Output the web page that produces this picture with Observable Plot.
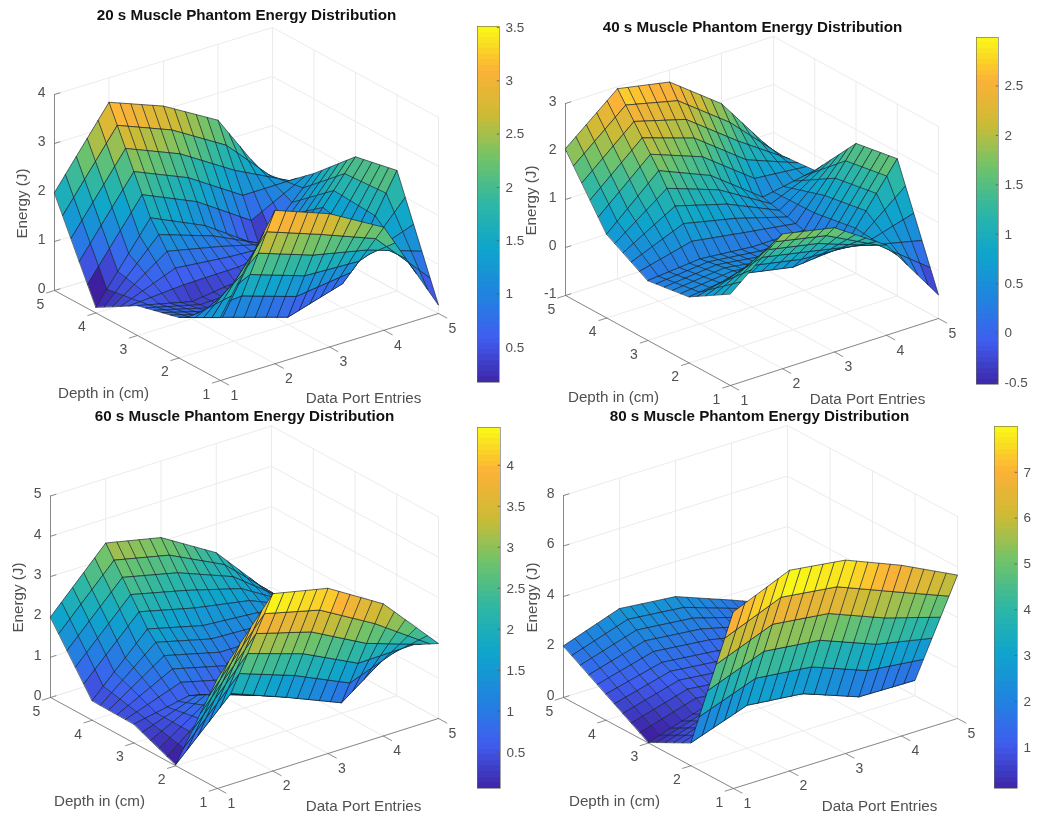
<!DOCTYPE html>
<html>
<head>
<meta charset="utf-8">
<script src="https://cdn.jsdelivr.net/npm/d3@7"></script>
<script src="https://cdn.jsdelivr.net/npm/@observablehq/plot@0.6"></script>
<style>
html,body{margin:0;padding:0;background:#fff}
#page{position:relative;width:1038px;height:816px;overflow:hidden;filter:blur(0.45px)}
#page svg{position:absolute;background:transparent}
</style>
</head>
<body>
<div id="page"></div>
<script>
// Energy at the integer knots; rows are depth 5..1, columns port 1..5.
const ports = [1, 2, 3, 4, 5];
const depths = [5, 4, 3, 2, 1];
const energy20 = [
  [2.0, 3.5, 3.08, 2.45, 0.78],
  [0.12, 1.6, 1.1, 0.35, 1.48],
  [0.61, 0.35, 0.5, 0.9, 2.28],
  [0.83, 0.49, 0.15, 0.49, 2.46],
  [1.29, 3.13, 2.72, 2.1, 0.17]
];
const energy40 = [
  [2.06, 2.96, 2.75, 1.95, 0.6],
  [0.75, 1.72, 1.27, 0.47, 0.68],
  [0.25, 0.35, 0.25, 0.25, 1.71],
  [0.38, 0.51, 0.30, 0.40, 1.86],
  [0.91, 1.81, 1.59, 0.88, -0.51]
];
const energy60 = [
  [2.0, 3.4, 3.1, 2.29, 0.83],
  [0.49, 1.83, 1.48, 1.37, 1.0],
  [0.47, 0.74, 0.39, 0.5, 1.3],
  [0.03, 1.36, 0.83, 0.26, 1.25],
  [2.73, 4.4, 4.1, 3.28, 1.86]
];
const energy80 = [
  [2.05, 2.83, 2.61, 1.78, 0.9],
  [1.04, 1.6, 1.37, 1.0, 1.0],
  [0.03, 0.73, 0.5, 0.7, 1.0],
  [0.91, 1.70, 1.47, 0.65, 0.61],
  [7.0, 7.95, 7.66, 6.76, 5.68]
];
const titles = ["20 s Muscle Phantom Energy Distribution", "40 s Muscle Phantom Energy Distribution",
                "60 s Muscle Phantom Energy Distribution", "80 s Muscle Phantom Energy Distribution"];
const zTicks = [[0,1,2,3,4], [-1,0,1,2,3], [0,1,2,3,4,5], [0,2,4,6,8]];
const barTicks = [[0.5,1,1.5,2,2.5,3,3.5], [-0.5,0,0.5,1,1.5,2,2.5], [0.5,1,1.5,2,2.5,3,3.5,4], [1,2,3,4,5,6,7]];
const barDomains = [[0.17,3.51], [-0.52,2.99], [0.06,4.46], [0.1,8.0]];

// Layout of each panel (view box corners, label anchors, colour bar box), in page pixels.
const layout = [
  {L:[54,290],  B:[220,380], R:[438,313], zs:49,    title:[246,15],  depth:[103,393], port:[363,398], energy:[22,203],  bar:[477,26,22,356]},
  {L:[565,295], B:[730,385], R:[938,318], zs:48,    title:[752,27],  depth:[613,397], port:[867,399], energy:[531,200], bar:[976,37,22,347]},
  {L:[50,697],  B:[217,788], R:[438,718], zs:40.3,  title:[244,416], depth:[99,801],  port:[363,806], energy:[18,597],  bar:[477,427,23,361]},
  {L:[563,697], B:[733,788], R:[957,718], zs:25.25, title:[759,416], depth:[614,801], port:[879,806], energy:[532,597], bar:[994,426,23,362]}
];

const parula = d3.piecewise(d3.interpolateRgb, ["#3e26a8","#3f5ef0","#1f85de","#0ea5cc","#2eb7a4","#6fc36a","#cdbb35","#fcb137","#f9fb15"]);
const textColor = "#505050", font = "Liberation Sans, Arial, sans-serif";
const page = document.getElementById("page");
const W = 1038, H = 816;
const pageScale = {
  x: {domain:[0,W], range:[0,W], axis:null},
  y: {domain:[0,H], range:[0,H], axis:null}
};

// The mesh of the surface is drawn at a fifth of a unit: a facet's corners lie on the
// flat patches spanned by the energies that were read at the knots above.
const meshPerUnit = 5;
function energyAt(table, p, d) {
  const i = Math.min(3, Math.floor(p - 1)), j = Math.min(3, Math.floor(5 - d));
  const a = p - 1 - i, b = 5 - d - j;
  return (1-a)*(1-b)*table[j][i] + a*(1-b)*table[j][i+1] + (1-a)*b*table[j+1][i] + a*b*table[j+1][i+1];
}

function drawPanel(table, k) {
  const g = layout[k], ticks = zTicks[k], zMin = ticks[0], zMax = ticks[ticks.length-1];
  const ex = [(g.R[0]-g.B[0])/4, (g.R[1]-g.B[1])/4];
  const ed = [(g.B[0]-g.L[0])/4, (g.B[1]-g.L[1])/4];
  const proj = (p, d, z) => ({
    x: g.L[0] + ex[0]*(p-1) + ed[0]*(5-d),
    y: g.L[1] + ex[1]*(p-1) + ed[1]*(5-d) - g.zs*(z-zMin)
  });

  // facets, far to near, one closed path each
  const facets = [];
  const n = 4*meshPerUnit;
  for (let dj = n-1; dj >= 0; dj--) {
    for (let pi = n-1; pi >= 0; pi--) {
      const p0 = 1+pi/meshPerUnit, p1 = 1+(pi+1)/meshPerUnit, d0 = 1+dj/meshPerUnit, d1 = 1+(dj+1)/meshPerUnit;
      const v = energyAt(table, p0, d0), id = `${dj}-${pi}`;
      for (const [p,d] of [[p0,d0],[p1,d0],[p1,d1],[p0,d1]]) {
        facets.push({id, v, ...proj(p, d, energyAt(table, p, d))});
      }
    }
  }

  // box grid lines
  const grid = [];
  const seg = (arr, id, a, b) => arr.push({id, ...a}, {id, ...b});
  for (const z of ticks) {
    seg(grid, `zl${z}`, proj(1,5,z), proj(5,5,z));
    seg(grid, `zr${z}`, proj(5,5,z), proj(5,1,z));
  }
  for (const p of ports) {
    seg(grid, `pf${p}`, proj(p,5,zMin), proj(p,1,zMin));
    seg(grid, `pw${p}`, proj(p,5,zMin), proj(p,5,zMax));
  }
  for (const d of depths) {
    seg(grid, `df${d}`, proj(1,d,zMin), proj(5,d,zMin));
    seg(grid, `dw${d}`, proj(5,d,zMin), proj(5,d,zMax));
  }

  // axis lines and short ticks
  const axes = [];
  seg(axes, "z", proj(1,5,zMin), proj(1,5,zMax));
  seg(axes, "d", proj(1,5,zMin), proj(1,1,zMin));
  seg(axes, "p", proj(1,1,zMin), proj(5,1,zMin));
  for (const z of ticks) seg(axes, `tz${z}`, proj(1,5,z), proj(1.1,5,z));
  for (const d of depths) seg(axes, `td${d}`, proj(1,d,zMin), proj(0.85,d,zMin));
  for (const p of ports) seg(axes, `tp${p}`, proj(p,1,zMin), proj(p,0.8,zMin));

  const zLabels = ticks.map(z => ({label:String(z), ...proj(1,5,z)}));
  const dLabels = depths.map(d => ({label:String(d), ...proj(1,d,zMin)}));
  const pLabels = ports.map(p => ({label:String(p), ...proj(p,1,zMin)}));
  const named = [
    {label:"Depth in (cm)", x:g.depth[0], y:g.depth[1]},
    {label:"Data Port Entries", x:g.port[0], y:g.port[1]}
  ];
  const tickText = {x:"x", y:"y", text:"label", fontSize:14, fill:textColor, fontFamily:font};

  const surface = Plot.plot({
    width:W, height:H, margin:0, ...pageScale,
    color:{type:"linear", domain:barDomains[k], interpolate:parula},
    marks:[
      Plot.line(grid, {x:"x", y:"y", z:"id", stroke:"#ebebeb", strokeWidth:1}),
      Plot.line(axes, {x:"x", y:"y", z:"id", stroke:"#707070", strokeWidth:0.8}),
      Plot.line(facets, {x:"x", y:"y", z:"id", fill:"v", stroke:"#14202c", strokeWidth:0.65, curve:"linear-closed"}),
      Plot.text(zLabels, {...tickText, textAnchor:"end", dx:-9, dy:-2}),
      Plot.text(dLabels, {...tickText, dx:-14, dy:14}),
      Plot.text(pLabels, {...tickText, dx:14, dy:15}),
      Plot.text(named, {x:"x", y:"y", text:"label", fontSize:15.2, fill:textColor, fontFamily:font}),
      Plot.text([{label:"Energy (J)", x:g.energy[0], y:g.energy[1]}], {x:"x", y:"y", text:"label", rotate:-90, fontSize:15.2, fill:textColor, fontFamily:font}),
      Plot.text([{label:titles[k], x:g.title[0], y:g.title[1]}], {x:"x", y:"y", text:"label", fontSize:15.2, fontWeight:"bold", fill:"#111", fontFamily:font})
    ]
  });
  surface.style.left = "0px"; surface.style.top = "0px";
  page.appendChild(surface);

  // colour bar
  const [bx, by, bw, bh] = g.bar, [vMin, vMax] = barDomains[k];
  const steps = 64;
  const levels = d3.range(steps).map(i => ({
    lo: vMin + (vMax-vMin)*i/steps,
    hi: vMin + (vMax-vMin)*(i+1)/steps,
    v: vMin + (vMax-vMin)*(i+0.5)/steps
  }));
  const bar = Plot.plot({
    width:bw+40, height:bh, marginTop:0, marginBottom:0, marginLeft:0, marginRight:40,
    x:{domain:[0,1], axis:null},
    y:{domain:[vMin,vMax], axis:null},
    color:{type:"linear", domain:[vMin,vMax], interpolate:parula},
    marks:[
      Plot.rect(levels, {x1:0, x2:1, y1:"lo", y2:"hi", fill:"v", shapeRendering:"crispEdges"}),
      Plot.ruleY(barTicks[k], {x1:0.9, x2:1, stroke:"#555", strokeWidth:0.8}),
      Plot.axisY(barTicks[k], {anchor:"right", tickSize:0, tickPadding:6, label:null, fontSize:13.5, color:textColor, fill:textColor, fontFamily:font, tickFormat:d=>String(d)}),
      Plot.frame({stroke:"#666", strokeWidth:0.6})
    ]
  });
  bar.style.left = bx+"px"; bar.style.top = by+"px"; bar.style.overflow = "visible";
  page.appendChild(bar);
}

[energy20, energy40, energy60, energy80].forEach(drawPanel);
</script>
</body>
</html>
